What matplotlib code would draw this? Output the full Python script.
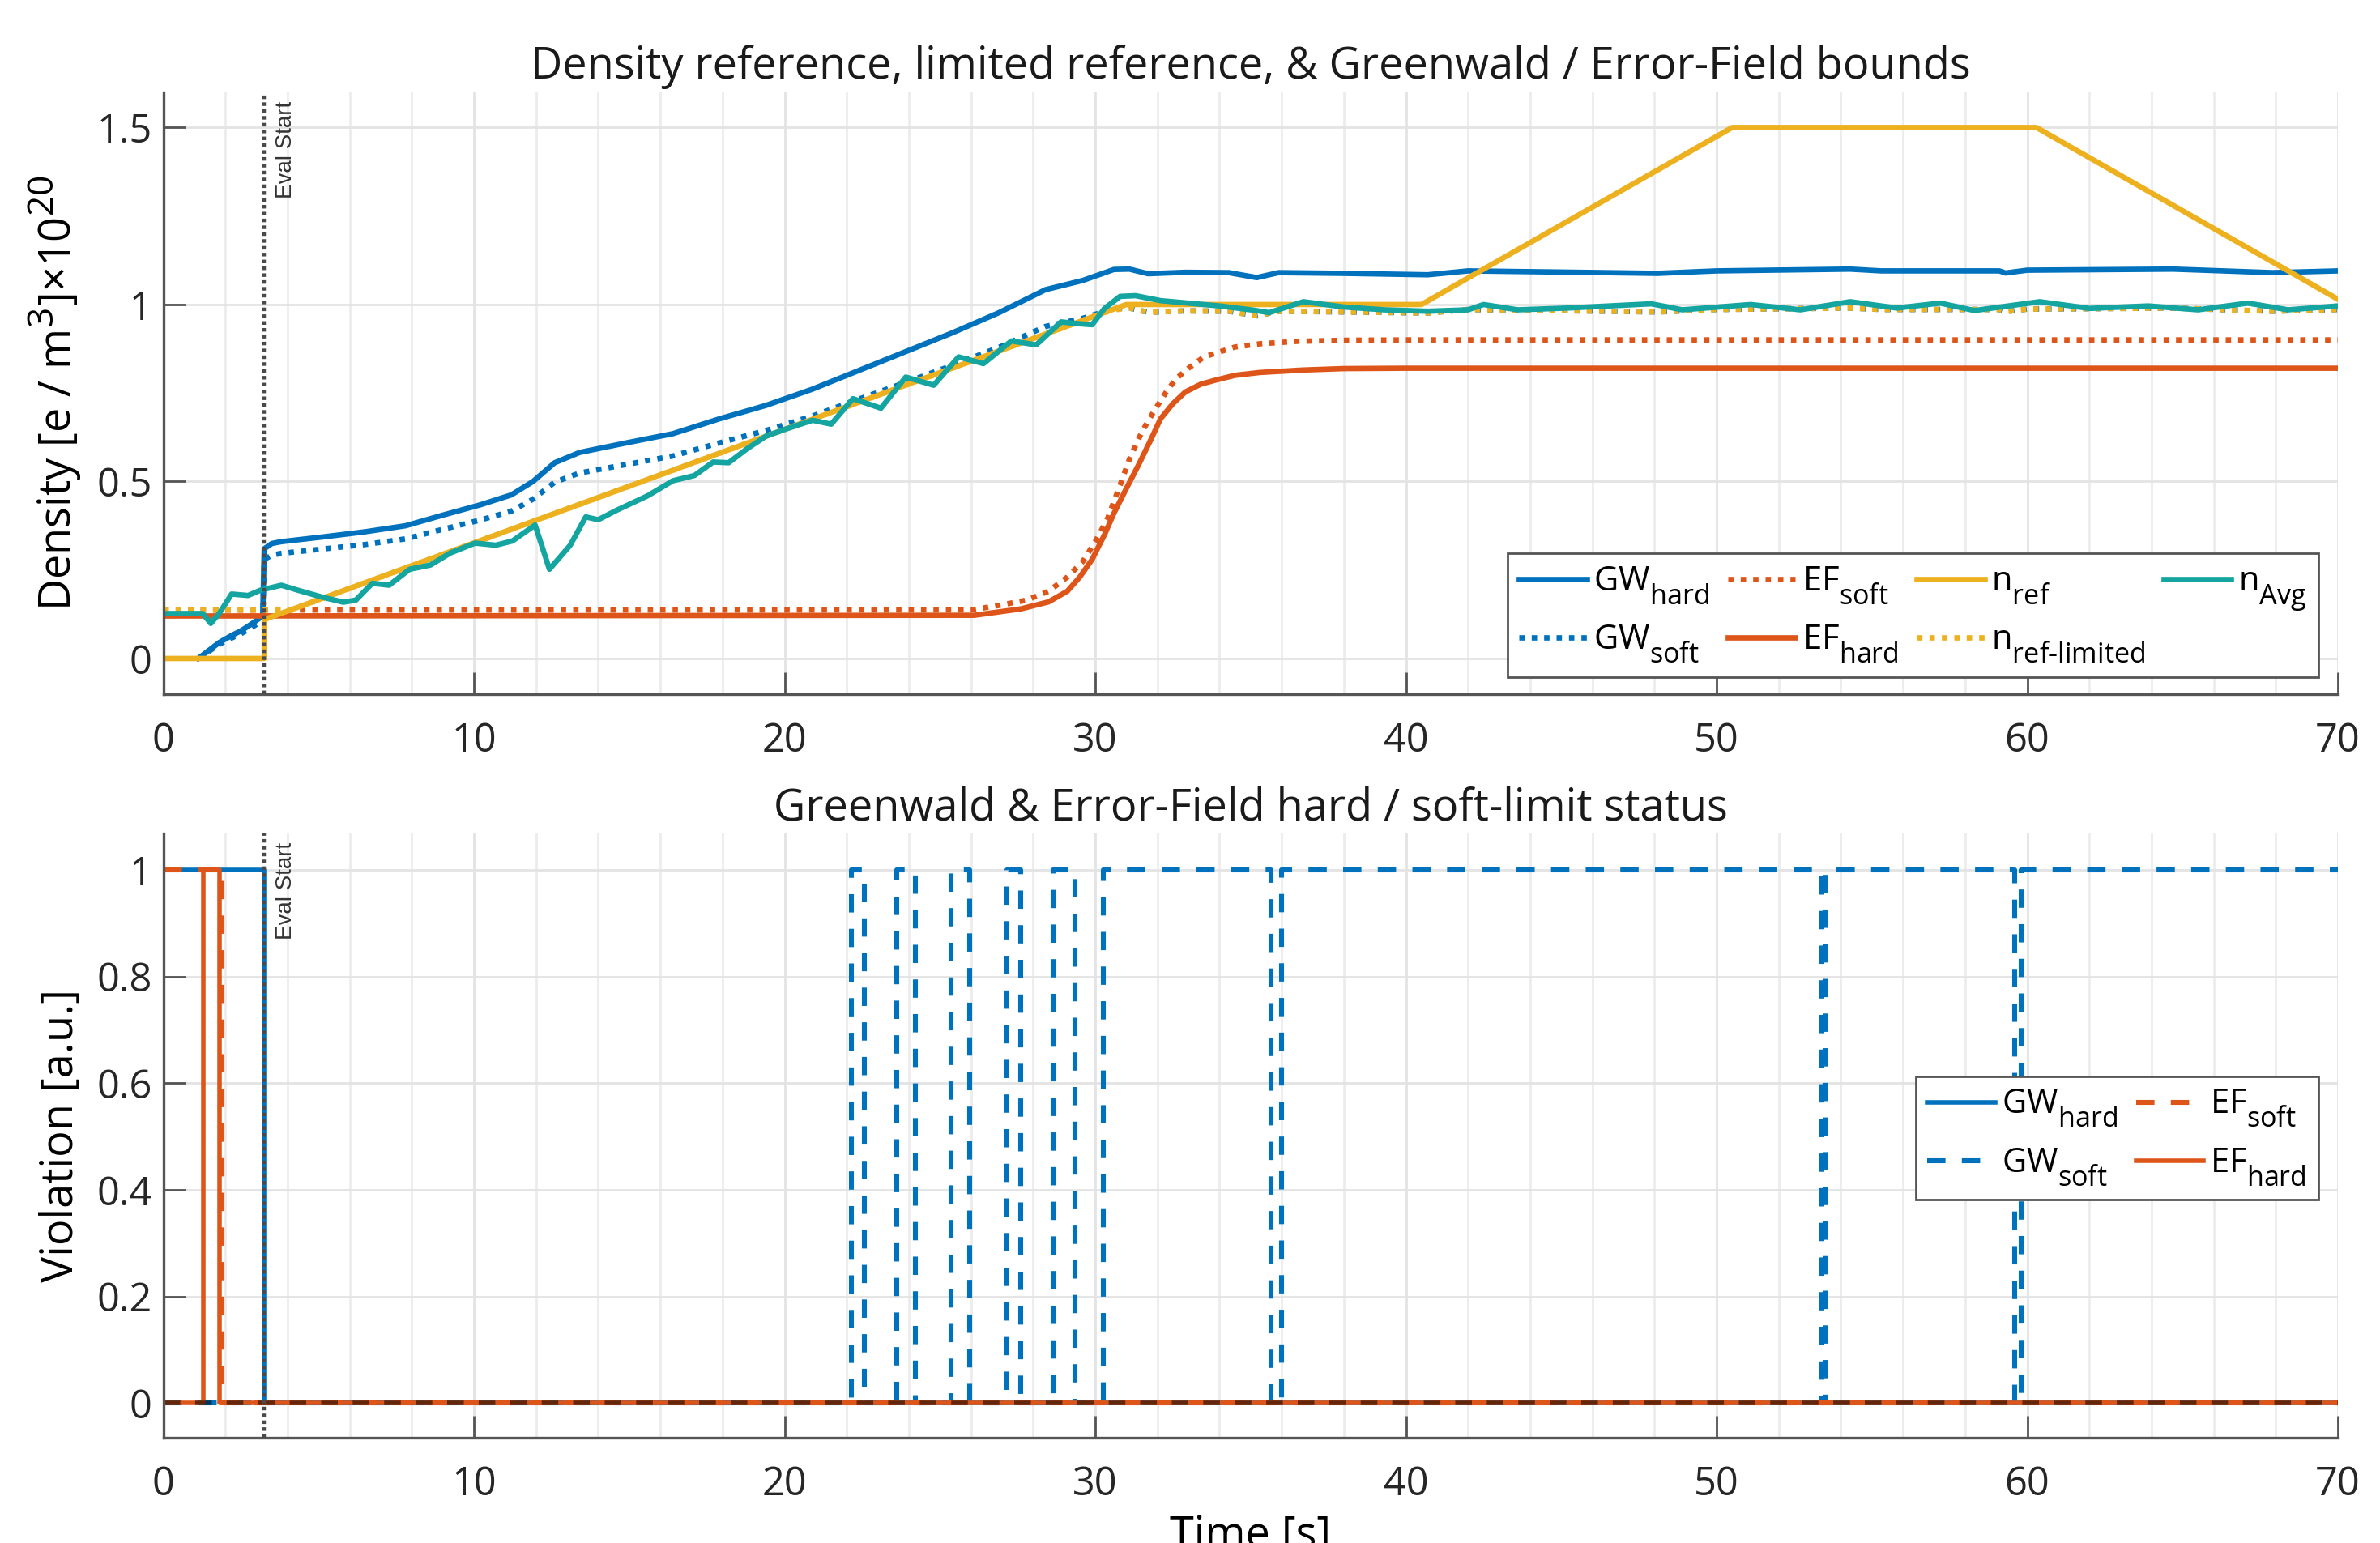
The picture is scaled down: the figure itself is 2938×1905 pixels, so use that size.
import numpy as np
import matplotlib
matplotlib.use("Agg")
import matplotlib.pyplot as plt
from matplotlib.ticker import FuncFormatter, MultipleLocator

try:
    import matplotlib._mathtext as _mt
    _mt.SHRINK_FACTOR = 0.82
    _mt.FontConstantsBase.sub1 = 0.75
    _mt.FontConstantsBase.sub2 = 0.9
except Exception:
    pass

# ---------------- data ----------------
# top panel
t_gw_hard = [1.13, 1.5, 1.8, 2.2, 2.5, 2.8, 3.2, 3.25, 3.5, 3.8, 5.1, 6.5, 7.8, 9.0, 10.2, 11.2, 11.9,
             12.6, 13.4, 14.9, 16.4, 17.9, 19.4, 20.9, 22.4, 23.9, 25.4, 26.9, 28.4, 29.6, 30.6, 31.1,
             31.7, 32.9, 34.3, 35.2, 35.9, 38.0, 40.7, 42.0, 44.7, 48.1, 50.0, 54.3, 55.3, 59.1, 59.3,
             60.0, 64.7, 67.9, 70.0]
gw_hard = [0.0, 0.025, 0.045, 0.065, 0.078, 0.095, 0.12, 0.31, 0.325, 0.33, 0.343, 0.358, 0.375, 0.405,
           0.434, 0.462, 0.50, 0.553, 0.582, 0.609, 0.635, 0.677, 0.715, 0.761, 0.814, 0.867, 0.92,
           0.977, 1.042, 1.068, 1.099, 1.10, 1.087, 1.091, 1.09, 1.076, 1.09, 1.088, 1.084, 1.095,
           1.092, 1.088, 1.095, 1.10, 1.095, 1.095, 1.089, 1.097, 1.10, 1.09, 1.095]
t_gw_soft = t_gw_hard
gw_soft = [0.0, 0.022, 0.04, 0.058, 0.07, 0.085, 0.108, 0.28, 0.292, 0.297, 0.309, 0.322, 0.338, 0.365,
           0.391, 0.416, 0.45, 0.498, 0.524, 0.548, 0.572, 0.609, 0.644, 0.685, 0.733, 0.78, 0.828,
           0.879, 0.938, 0.961, 0.989, 0.99, 0.978, 0.982, 0.981, 0.968, 0.981, 0.979, 0.976, 0.986,
           0.983, 0.979, 0.986, 0.99, 0.986, 0.986, 0.98, 0.987, 0.99, 0.981, 0.986]
t_ef_soft = [0, 26.0, 26.9, 27.8, 28.5, 29.1, 29.6, 30.0, 30.4, 30.8, 31.1, 31.5, 31.9, 32.3, 32.6,
             33.0, 33.5, 34.0, 34.5, 35.3, 36.5, 38.0, 40.0, 70.0]
ef_soft = [0.137, 0.137, 0.15, 0.165, 0.19, 0.23, 0.274, 0.33, 0.396, 0.49, 0.563, 0.64, 0.70, 0.755,
           0.79, 0.82, 0.852, 0.866, 0.88, 0.889, 0.896, 0.899, 0.90, 0.90]
t_ef_hard = [0, 26.1, 27.6, 28.5, 29.1, 29.5, 29.9, 30.3, 30.6, 31.0, 31.4, 31.8, 32.1, 32.5, 32.9,
             33.4, 33.9, 34.5, 35.3, 36.7, 38.0, 40.0, 70.0]
ef_hard = [0.12, 0.122, 0.14, 0.16, 0.19, 0.23, 0.28, 0.35, 0.41, 0.48, 0.548, 0.62, 0.677, 0.72, 0.753,
           0.775, 0.787, 0.80, 0.808, 0.815, 0.819, 0.82, 0.82]
t_n_ref = [0, 3.25, 3.25, 31.0, 40.5, 50.5, 60.3, 70.0]
n_ref = [0.0, 0.0, 0.11, 1.0, 1.0, 1.5, 1.5, 1.015]
t_n_ref_lim = [0, 4.1, 30.5, 31.1, 31.7, 32.9, 34.3, 35.2, 35.9, 38.0, 40.7, 42.0, 44.7, 48.1, 50.0,
               54.3, 55.3, 59.1, 59.3, 60.0, 64.7, 67.9, 70.0]
n_ref_lim = [0.137, 0.137, 0.984, 0.99, 0.978, 0.982, 0.981, 0.968, 0.981, 0.979, 0.976, 0.986, 0.983,
             0.979, 0.986, 0.99, 0.986, 0.986, 0.98, 0.987, 0.99, 0.981, 0.986]
t_n_avg = [0, 1.27, 1.53, 1.8, 2.2, 2.73, 3.13, 3.8, 4.33, 5.13, 5.8, 6.2, 6.73, 7.27, 7.93, 8.6, 9.24,
           10.04, 10.7, 11.24, 11.97, 12.43, 13.1, 13.6, 14.0, 14.6, 15.6, 16.4, 17.1, 17.7, 18.2,
           18.8, 19.4, 20.0, 20.9, 21.5, 22.2, 23.1, 23.9, 24.8, 25.6, 26.4, 27.3, 28.1, 28.9, 29.3,
           29.9, 30.3, 30.8, 31.3, 32.1, 34.0, 35.1, 35.6, 36.7, 38.0, 39.3, 40.7, 42.0, 42.5, 43.6,
           45.2, 47.9, 48.9, 51.1, 52.7, 54.3, 55.8, 57.2, 58.3, 60.4, 62.0, 63.9, 65.5, 67.1, 68.4, 70.0]
n_avg = [0.127, 0.127, 0.099, 0.127, 0.182, 0.178, 0.193, 0.207, 0.193, 0.173, 0.159, 0.165, 0.2125,
         0.207, 0.252, 0.264, 0.298, 0.326, 0.32, 0.332, 0.377, 0.252, 0.32, 0.40, 0.392, 0.419, 0.46,
         0.502, 0.517, 0.555, 0.553, 0.593, 0.628, 0.647, 0.673, 0.662, 0.734, 0.707, 0.795, 0.772,
         0.852, 0.833, 0.897, 0.886, 0.951, 0.947, 0.943, 0.989, 1.023, 1.025, 1.011, 0.996, 0.984,
         0.977, 1.008, 0.993, 0.985, 0.981, 0.985, 1.0, 0.985, 0.99, 1.002, 0.985, 1.0, 0.985, 1.008,
         0.99, 1.004, 0.983, 1.008, 0.989, 0.996, 0.985, 1.004, 0.985, 0.996]

# bottom panel (violation flags, step-wise)
t_v_gw_hard = [0, 3.25, 3.25, 70]
v_gw_hard = [1, 1, 0, 0]
t_v_gw_soft = [0, 22.15, 22.15, 22.56, 22.56, 23.6, 23.6, 24.2, 24.2, 25.35, 25.35, 25.95, 25.95,
               27.15, 27.15, 27.6, 27.6, 28.65, 28.65, 29.35, 29.35, 30.25, 30.25, 35.66, 35.66,
               36.0, 36.0, 53.4, 53.4, 53.5, 53.5, 59.6, 59.6, 59.8, 59.8, 70]
v_gw_soft = [0, 0, 1, 1, 0, 0, 1, 1, 0, 0, 1, 1, 0, 0, 1, 1, 0, 0, 1, 1, 0, 0, 1, 1, 0, 0, 1, 1, 0,
             0, 1, 1, 0, 0, 1, 1]
t_v_ef_soft = [0, 1.9, 1.9, 70]
v_ef_soft = [1, 1, 0, 0]
t_v_ef_hard = [0, 1.3, 1.3, 1.8, 1.8, 70]
v_ef_hard = [0, 0, 1, 1, 0, 0]

eval_start = 3.25
x_ticks = [0, 10, 20, 30, 40, 50, 60, 70]
top_yticks = [0, 0.5, 1, 1.5]
bot_yticks = [0, 0.2, 0.4, 0.6, 0.8, 1]

# ---------------- style ----------------
BLUE = "#0072BD"
ORANGE = "#DE5519"
YELLOW = "#EDB120"
TEAL = "#14A5A0"
FONT = "Open Sans"

plt.rcParams["font.family"] = [FONT, "DejaVu Sans"]
plt.rcParams["mathtext.fontset"] = "custom"
plt.rcParams["mathtext.rm"] = FONT
plt.rcParams["mathtext.it"] = FONT + ":italic"
plt.rcParams["mathtext.bf"] = FONT + ":bold"

DOT = (0, (1.0, 1.3))
DASH = (0, (3.7, 3.3))
TICK_FS = 17.5
LABEL_FS = 19.5
LEG_FS = 15.0

fig = plt.figure(figsize=(14.69, 9.525), dpi=200)
ax1 = fig.add_axes([0.0686, 0.5503, 0.9137, 0.3900])
ax2 = fig.add_axes([0.0686, 0.0682, 0.9137, 0.3916])

fmt = FuncFormatter(lambda v, p: f"{v:g}")


def style_axes(ax, yticks):
    ax.set_xlim(0, 70)
    ax.set_xticks(x_ticks)
    ax.xaxis.set_minor_locator(MultipleLocator(2))
    ax.set_yticks(yticks)
    ax.xaxis.set_major_formatter(fmt)
    ax.yaxis.set_major_formatter(fmt)
    ax.grid(True, which="major", color="#e3e3e3", lw=1.0)
    ax.grid(True, which="minor", axis="x", color="#ececec", lw=1.0)
    ax.set_axisbelow(True)
    for s in ["top", "right"]:
        ax.spines[s].set_visible(False)
    for s in ["left", "bottom"]:
        ax.spines[s].set_color("#555555")
        ax.spines[s].set_linewidth(1.2)
    ax.tick_params(axis="both", which="major", direction="in", length=9.7, width=1.0,
                   color="#555555", labelsize=TICK_FS, labelcolor="#262626")
    ax.tick_params(axis="x", which="major", pad=12)
    ax.tick_params(axis="y", which="major", pad=5)
    ax.tick_params(axis="both", which="minor", length=0)


# ---------------- top panel ----------------
kw = dict(solid_joinstyle="round", dash_capstyle="butt")
h1, = ax1.plot(t_gw_hard, gw_hard, color=BLUE, lw=2.4, label=r"GW$_{\mathrm{hard}}$", **kw)
h2, = ax1.plot(t_gw_soft, gw_soft, color=BLUE, lw=2.4, ls=DOT, label=r"GW$_{\mathrm{soft}}$", **kw)
h3, = ax1.plot(t_ef_soft, ef_soft, color=ORANGE, lw=2.4, ls=DOT, label=r"EF$_{\mathrm{soft}}$", **kw)
h4, = ax1.plot(t_ef_hard, ef_hard, color=ORANGE, lw=2.4, label=r"EF$_{\mathrm{hard}}$", **kw)
h5, = ax1.plot(t_n_ref, n_ref, color=YELLOW, lw=2.4, label=r"n$_{\mathrm{ref}}$", **kw)
h6, = ax1.plot(t_n_ref_lim, n_ref_lim, color=YELLOW, lw=2.4, ls=DOT,
               label=r"n$_{\mathrm{ref\text{-}limited}}$", **kw)
h7, = ax1.plot(t_n_avg, n_avg, color=TEAL, lw=2.4, label=r"n$_{\mathrm{Avg}}$", **kw)

style_axes(ax1, top_yticks)
ax1.set_ylim(-0.1, 1.6)
ax1.set_title("Density reference, limited reference, & Greenwald / Error-Field bounds",
              fontsize=LABEL_FS, pad=6, color="#1a1a1a")
ax1.set_ylabel(r"Density [e / m$^{3}$]$\times$10$^{20}$", fontsize=LABEL_FS, labelpad=6)

leg_kw = dict(loc="lower right", fontsize=LEG_FS, frameon=True, fancybox=False,
              edgecolor="#555555", framealpha=1, handlelength=2.0, handletextpad=0.2,
              columnspacing=0.55, borderpad=0.35, labelspacing=0.5, borderaxespad=0)
leg1 = ax1.legend(handles=[h1, h2, h3, h4, h5, h6, h7], ncol=4,
                  bbox_to_anchor=(0.991, 0.0285), **leg_kw)
leg1.get_frame().set_linewidth(1.0)

# ---------------- bottom panel ----------------
g1, = ax2.plot(t_v_gw_hard, v_gw_hard, color=BLUE, lw=2.0, label=r"GW$_{\mathrm{hard}}$", **kw)
g2, = ax2.plot(t_v_gw_soft, v_gw_soft, color=BLUE, lw=2.2, ls=DASH, label=r"GW$_{\mathrm{soft}}$", **kw)
g3, = ax2.plot(t_v_ef_soft, v_ef_soft, color=ORANGE, lw=2.2, ls=DASH, label=r"EF$_{\mathrm{soft}}$", **kw)
g4, = ax2.plot(t_v_ef_hard, v_ef_hard, color=ORANGE, lw=2.0, label=r"EF$_{\mathrm{hard}}$", **kw)
ax2.axhline(0, color="black", lw=2.0, ls=DASH, alpha=0.55, zorder=2.5)

style_axes(ax2, bot_yticks)
ax2.set_ylim(-0.065, 1.068)
ax2.set_title("Greenwald & Error-Field hard / soft-limit status", fontsize=LABEL_FS, pad=6,
              color="#1a1a1a")
ax2.set_ylabel("Violation [a.u.]", fontsize=LABEL_FS, labelpad=6)
ax2.set_xlabel("Time [s]", fontsize=LABEL_FS, labelpad=4)

leg2 = ax2.legend(handles=[g1, g2, g3, g4], ncol=2, bbox_to_anchor=(0.991, 0.394), **leg_kw)
leg2.get_frame().set_linewidth(1.0)

# eval start markers
for ax in (ax1, ax2):
    ax.axvline(eval_start, color="#4a4a4a", lw=1.6, ls=(0, (1.0, 0.9)), zorder=3)
    ax.text(eval_start + 0.35, 0.985, "Eval Start", transform=ax.get_xaxis_transform(),
            rotation=90, ha="left", va="top", fontsize=10, color="#333333",
            family=["Liberation Sans", "DejaVu Sans"])

fig.savefig("out.png", dpi=200)
